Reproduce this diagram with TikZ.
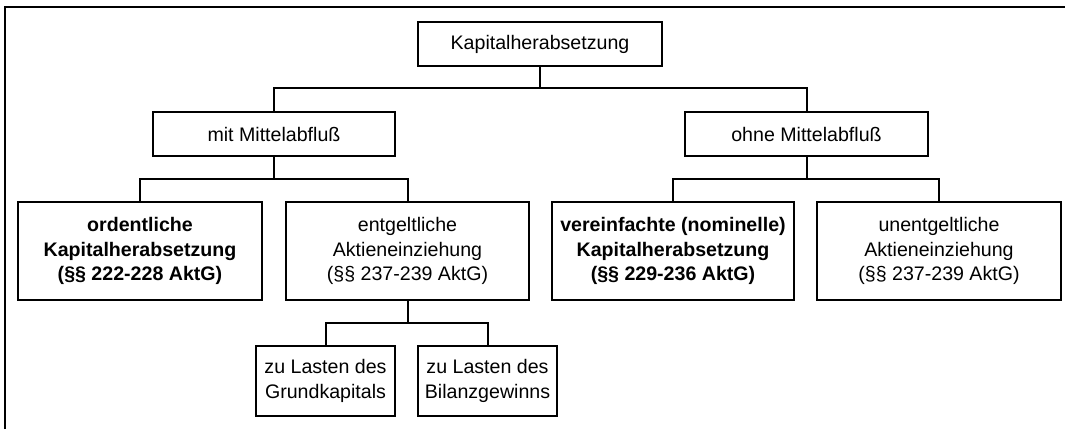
\documentclass[tikz,border=0pt]{standalone}
\usepackage{fontspec}
\setmainfont{Liberation Sans}
\begin{document}
\begin{tikzpicture}[x=0.75pt,y=-0.75pt,
  box/.style 2 args={draw=black, line width=1.5pt, fill=white, inner sep=0pt, align=center,
    minimum width=#1*0.75pt, minimum height=#2*0.75pt,
    font=\fontsize{14.7}{18.4}\selectfont},
  conn/.style={draw=black, line width=1.5pt},
  frame/.style={draw=black, line width=1.6pt}]
\useasboundingbox (0,0) rectangle (1065,429);
\coordinate (fbl) at (4.7,429);
\coordinate (ftl) at (4.7,7.3);
\coordinate (ftr) at (1065,7.3);
\draw[frame] (fbl) -- (ftl) -- (ftr);

\node[box={244}{44}] (top) at (540,44) {Kapitalherabsetzung};
\node[box={242}{44}] (mit) at (274,134) {mit Mittelabfluß};
\node[box={243}{44}] (ohne) at (806.5,134) {ohne Mittelabfluß};
\node[box={244}{98}] (ord) at (140,251) {\bfseries ordentliche\\\bfseries Kapitalherabsetzung\\\bfseries (§§ 222-228 AktG)};
\node[box={243}{98}] (ent) at (407.5,251) {entgeltliche\\Aktieneinziehung\\(§§ 237-239 AktG)};
\node[box={242}{98}] (ver) at (673,251) {\bfseries vereinfachte (nominelle)\\\bfseries Kapitalherabsetzung\\\bfseries (§§ 229-236 AktG)};
\node[box={244}{98}] (unent) at (939,251) {unentgeltliche\\Aktieneinziehung\\(§§ 237-239 AktG)};
\node[box={139}{70}] (grund) at (325.5,381) {zu Lasten des\\Grundkapitals};
\node[box={139}{70}] (bil) at (487.5,381) {zu Lasten des\\Bilanzgewinns};

\coordinate (j1) at (540,88);
\coordinate (j2) at (274,179);
\coordinate (j3) at (806.5,179);
\coordinate (j4) at (407.5,323);

\draw[conn] (top.south) -- (j1);
\draw[conn] (mit.north) |- (j1) -| (ohne.north);
\draw[conn] (mit.south) -- (j2);
\draw[conn] (ord.north) |- (j2) -| (ent.north);
\draw[conn] (ohne.south) -- (j3);
\draw[conn] (ver.north) |- (j3) -| (unent.north);
\draw[conn] (ent.south) -- (j4);
\draw[conn] (grund.north) |- (j4) -| (bil.north);
\end{tikzpicture}
\end{document}
